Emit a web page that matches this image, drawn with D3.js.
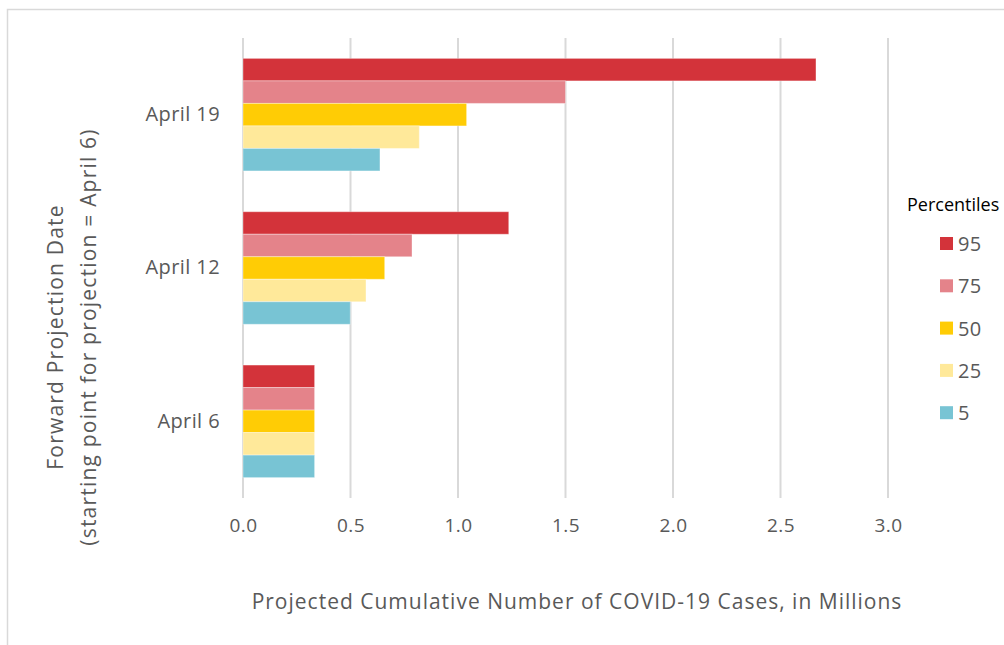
<!DOCTYPE html>
<html>
<head>
<meta charset="utf-8">
<script src="https://cdn.jsdelivr.net/npm/d3@7"></script>
<style>
  body { margin: 0; background: #fff; }
  text { font-family: "Open Sans", sans-serif; }
</style>
</head>
<body>
<script>
var w = 1004, h = 645;

// data, millions of cases
var dates = ["April 19", "April 12", "April 6"];
var percentiles = ["95", "75", "50", "25", "5"];
var p95 = [2.665, 1.236, 0.333];
var p75 = [1.50, 0.786, 0.333];
var p50 = [1.04, 0.659, 0.333];
var p25 = [0.82, 0.572, 0.333];
var p5  = [0.637, 0.499, 0.333];
var xTicks = [0, 0.5, 1.0, 1.5, 2.0, 2.5, 3.0];
var colors = ["#d3333a", "#e4838a", "#ffcc05", "#ffe99a", "#78c4d4"];

var series = [p95, p75, p50, p25, p5];
var rows = [];
dates.forEach(function (d, i) {
  percentiles.forEach(function (p, j) {
    rows.push({ date: d, pct: p, value: series[j][i] });
  });
});

var svg = d3.select("body").append("svg")
  .attr("width", w)
  .attr("height", h);

// outer frame
svg.append("path")
  .attr("d", "M7.5," + h + "V9.5H" + w)
  .attr("fill", "none")
  .attr("stroke", "#d9d9d9")
  .attr("stroke-width", 1.5);

var x = d3.scaleLinear().domain([0, 3]).range([243, 888]);
var y = d3.scaleBand().domain(dates).range([38, 498])
  .paddingInner(0.266).paddingOuter(0.133);
var ySub = d3.scaleBand().domain(percentiles).range([0, y.bandwidth()]);
var color = d3.scaleOrdinal().domain(percentiles).range(colors);

// grid lines
svg.append("g")
  .selectAll("line")
  .data(xTicks)
  .enter()
  .append("line")
  .attr("x1", d => x(d))
  .attr("x2", d => x(d))
  .attr("y1", 38)
  .attr("y2", 498)
  .attr("stroke", "#d9d9d9")
  .attr("stroke-width", 2);

// bars
svg.append("g")
  .selectAll("rect")
  .data(rows)
  .enter()
  .append("rect")
  .attr("x", x(0))
  .attr("y", d => y(d.date) + ySub(d.pct))
  .attr("width", d => x(d.value) - x(0))
  .attr("height", ySub.bandwidth())
  .attr("fill", d => color(d.pct))
  .attr("stroke", "rgba(255,255,255,0.35)")
  .attr("stroke-width", 1);

// x axis labels
var xAxis = d3.axisBottom(x).tickValues(xTicks).tickFormat(d3.format(".1f")).tickSize(0).tickPadding(0);
var gx = svg.append("g").attr("transform", "translate(0,518)").call(xAxis);
gx.select(".domain").remove();
gx.selectAll("text")
  .attr("font-family", "'Open Sans', sans-serif")
  .attr("font-size", "19px")
  .attr("letter-spacing", "0.5px")
  .attr("fill", "#595959");

// y axis labels
var yAxis = d3.axisLeft(y).tickSize(0).tickPadding(0);
var gy = svg.append("g").attr("transform", "translate(220,0)").call(yAxis);
gy.select(".domain").remove();
gy.selectAll("text")
  .attr("font-family", "'Open Sans', sans-serif")
  .attr("font-size", "20px")
  .attr("letter-spacing", "0.4px")
  .attr("fill", "#595959");

// axis titles
svg.append("text")
  .attr("x", 577)
  .attr("y", 609)
  .attr("text-anchor", "middle")
  .attr("font-size", "21px")
  .attr("letter-spacing", "1px")
  .attr("fill", "#595959")
  .text("Projected Cumulative Number of COVID-19 Cases, in Millions");

var yTitle = svg.append("text")
  .attr("transform", "translate(0,337) rotate(-90)")
  .attr("text-anchor", "middle")
  .attr("font-size", "21px")
  .attr("letter-spacing", "1.2px")
  .attr("fill", "#595959");
yTitle.append("tspan").attr("x", 0).attr("y", 63).text("Forward Projection Date");
yTitle.append("tspan").attr("x", 0).attr("y", 96).text("(starting point for projection = April 6)");

// legend
svg.append("text")
  .attr("x", 907)
  .attr("y", 211)
  .attr("font-family", "'Liberation Sans', Arial, sans-serif")
  .attr("font-size", "18px")
  .attr("fill", "#000")
  .text("Percentiles");

var leg = svg.append("g")
  .selectAll("g")
  .data(percentiles)
  .enter()
  .append("g")
  .attr("transform", (d, i) => "translate(940," + (244 + i * 42.3) + ")");
leg.append("rect")
  .attr("x", 0)
  .attr("y", -7)
  .attr("width", 13)
  .attr("height", 13)
  .attr("fill", d => color(d));
leg.append("text")
  .attr("x", 18)
  .attr("y", 0)
  .attr("dy", "0.35em")
  .attr("font-size", "20px")
  .attr("letter-spacing", "0.3px")
  .attr("fill", "#595959")
  .text(d => d);
</script>
</body>
</html>
